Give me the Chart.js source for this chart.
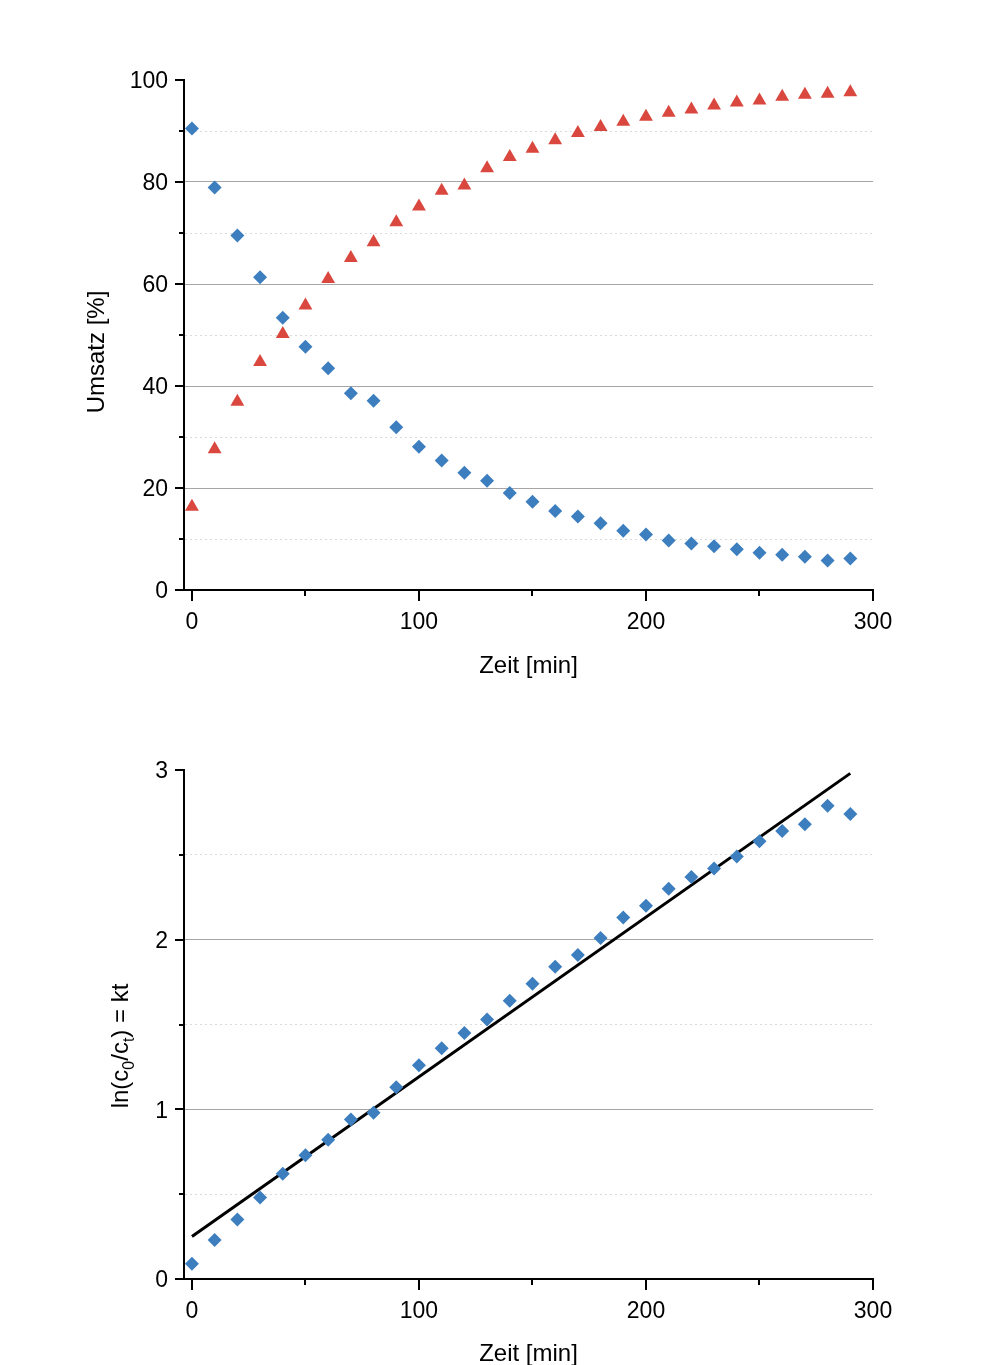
<!DOCTYPE html>
<html>
<head>
<meta charset="utf-8">
<script src="https://cdn.jsdelivr.net/npm/chart.js@4.4.1/dist/chart.umd.min.js"></script>
<style>
  html, body { margin: 0; padding: 0; background: #fff; }
  body { width: 1000px; height: 1365px; overflow: hidden; position: relative; }
  canvas { position: absolute; left: 0; }
  #top { top: 0; }
  #bottom { top: 705px; }
</style>
</head>
<body>
<canvas id="top" width="1000" height="705"></canvas>
<canvas id="bottom" width="1000" height="700"></canvas>
<script>
// values
const timeMin = [0, 10, 20, 30, 40, 50, 60, 70, 80, 90, 100, 110, 120, 130, 140,
                 150, 160, 170, 180, 190, 200, 210, 220, 230, 240, 250, 260, 270, 280, 290];
const eduktPct = [90.5, 78.9, 69.5, 61.3, 53.4, 47.7, 43.5, 38.6, 37.1, 31.9, 28.1, 25.4, 23.0, 21.4, 19.0,
                  17.3, 15.5, 14.4, 13.1, 11.6, 10.9, 9.7, 9.1, 8.6, 8.0, 7.3, 6.9, 6.5, 5.8, 6.2];
const produktPct = [16.3, 27.6, 36.9, 44.7, 50.2, 55.8, 61.0, 65.1, 68.2, 72.1, 75.2, 78.3, 79.3, 82.7, 84.9,
                    86.5, 88.2, 89.6, 90.8, 91.8, 92.8, 93.6, 94.2, 95.0, 95.6, 96.0, 96.7, 97.1, 97.3, 97.6];
const lnRatio = [0.09, 0.23, 0.35, 0.48, 0.62, 0.73, 0.82, 0.94, 0.98, 1.13, 1.26, 1.36, 1.45, 1.53, 1.64,
                 1.74, 1.84, 1.91, 2.01, 2.13, 2.20, 2.30, 2.37, 2.42, 2.49, 2.58, 2.64, 2.68, 2.79, 2.74];
const fitX = [0, 290];
const fitY = [0.25, 2.98];

const xTicks = [0, 50, 100, 150, 200, 250, 300];
const yTicksTop = [0, 10, 20, 30, 40, 50, 60, 70, 80, 90, 100];
const yTicksBottom = [0, 0.5, 1, 1.5, 2, 2.5, 3];

const BLUE = '#3d7ebf';
const RED = '#d9473e';

Chart.defaults.font.family = '"Liberation Sans", Arial, Helvetica, sans-serif';
Chart.defaults.color = '#000';

const pts = (xs, ys) => xs.map((x, i) => ({x: x, y: ys[i]}));
const isMajor = (v, step) => Math.abs(v / step - Math.round(v / step)) < 1e-6;

// short outward tick marks, long for labelled values
const tickMarks = {
  id: 'tickMarks',
  afterDraw(chart, args, o) {
    const {ctx} = chart;
    const xs = chart.scales.x, ys = chart.scales.y;
    ctx.save();
    ctx.strokeStyle = '#000';
    ctx.lineWidth = 2;
    ctx.beginPath();
    ys.ticks.forEach(t => {
      const p = Math.round(ys.getPixelForValue(t.value));
      const len = isMajor(t.value, o.yMajor) ? 9 : 5;
      ctx.moveTo(ys.right - len, p);
      ctx.lineTo(ys.right, p);
    });
    xs.ticks.forEach(t => {
      const p = Math.round(xs.getPixelForValue(t.value));
      const len = isMajor(t.value, o.xMajor) ? 11 : 6;
      ctx.moveTo(p, xs.top);
      ctx.lineTo(p, xs.top + len);
    });
    ctx.stroke();
    ctx.restore();
  }
};

// rotated y title, parts may be subscripts
const yTitle = {
  id: 'yTitle',
  afterDraw(chart, args, o) {
    if (!o.parts) return;
    const ctx = chart.ctx;
    const big = '24px "Liberation Sans", Arial, sans-serif';
    const small = '16px "Liberation Sans", Arial, sans-serif';
    ctx.save();
    ctx.fillStyle = '#000';
    ctx.textBaseline = 'alphabetic';
    let total = 0;
    o.parts.forEach(p => { ctx.font = p.sub ? small : big; total += ctx.measureText(p.t).width; });
    ctx.translate(o.x, o.y);
    ctx.rotate(-Math.PI / 2);
    let cx = -total / 2;
    o.parts.forEach(p => {
      ctx.font = p.sub ? small : big;
      ctx.fillText(p.t, cx, p.sub ? 6 : 0);
      cx += ctx.measureText(p.t).width;
    });
    ctx.restore();
  }
};

function yGrid(max, major) {
  return {
    drawTicks: false,
    lineWidth: 1,
    color: c => {
      if (!c.tick || c.tick.value === 0 || c.tick.value === max) return 'rgba(0,0,0,0)';
      return isMajor(c.tick.value, major) ? '#a6a6a6' : '#dadada';
    }
  };
}
function yBorder(major) {
  return {
    color: '#000', width: 2,
    dash: c => (c.tick && !isMajor(c.tick.value, major)) ? [2, 3] : []
  };
}
function xScale(boxH, titlePad) {
  return {
    type: 'linear', min: -3.5, max: 300,
    afterBuildTicks: s => { s.ticks = xTicks.map(v => ({value: v})); },
    afterFit: s => { s.height = boxH; },
    grid: {display: false, drawTicks: false},
    border: {color: '#000', width: 2},
    ticks: {
      padding: 19, font: {size: 23}, maxRotation: 0,
      callback: v => isMajor(v, 100) ? String(v) : ''
    },
    title: {display: true, text: 'Zeit [min]', font: {size: 24}, padding: {top: 0, bottom: titlePad}}
  };
}

new Chart(document.getElementById('top'), {
  type: 'scatter',
  data: {
    datasets: [
      {label: 'Edukt', data: pts(timeMin, eduktPct), pointStyle: 'rectRot', pointRadius: 7,
       backgroundColor: BLUE, borderColor: BLUE, borderWidth: 0},
      {label: 'Produkt', data: pts(timeMin, produktPct), pointStyle: 'triangle', pointRadius: 8,
       backgroundColor: RED, borderColor: RED, borderWidth: 0}
    ]
  },
  options: {
    responsive: false, animation: false,
    layout: {padding: {top: 80, bottom: 20, left: 0, right: 127}},
    plugins: {
      legend: {display: false}, tooltip: {enabled: false},
      tickMarks: {xMajor: 100, yMajor: 20},
      yTitle: {x: 104, y: 352, parts: [{t: 'Umsatz [%]'}]}
    },
    scales: {
      x: xScale(95, 4),
      y: {
        type: 'linear', min: 0, max: 100,
        afterBuildTicks: s => { s.ticks = yTicksTop.map(v => ({value: v})); },
        afterFit: s => { s.width = 184; },
        grid: yGrid(100, 20),
        border: yBorder(20),
        ticks: {padding: 16, labelOffset: 2, font: {size: 23}, callback: v => isMajor(v, 20) ? String(v) : ''},
        title: {display: false}
      }
    }
  },
  plugins: [tickMarks, yTitle]
});

new Chart(document.getElementById('bottom'), {
  type: 'scatter',
  data: {
    datasets: [
      {label: 'ln(c0/ct)', data: pts(timeMin, lnRatio), pointStyle: 'rectRot', pointRadius: 7,
       backgroundColor: BLUE, borderColor: BLUE, borderWidth: 0},
      {label: 'Fit', data: pts(fitX, fitY), showLine: true, pointRadius: 0,
       borderColor: '#000', borderWidth: 3}
    ]
  },
  options: {
    responsive: false, animation: false,
    layout: {padding: {top: 65, bottom: 34, left: 0, right: 127}},
    plugins: {
      legend: {display: false}, tooltip: {enabled: false},
      tickMarks: {xMajor: 100, yMajor: 1},
      yTitle: {x: 128, y: 341, parts: [
        {t: 'ln(c'}, {t: '0', sub: true}, {t: '/c'}, {t: 't', sub: true}, {t: ') = kt'}
      ]}
    },
    scales: {
      x: xScale(92, 2),
      y: {
        type: 'linear', min: 0, max: 3,
        afterBuildTicks: s => { s.ticks = yTicksBottom.map(v => ({value: v})); },
        afterFit: s => { s.width = 184; },
        grid: yGrid(3, 1),
        border: yBorder(1),
        ticks: {padding: 16, labelOffset: 2, font: {size: 23}, callback: v => isMajor(v, 1) ? String(v) : ''},
        title: {display: false}
      }
    }
  },
  plugins: [tickMarks, yTitle]
});
</script>
</body>
</html>
